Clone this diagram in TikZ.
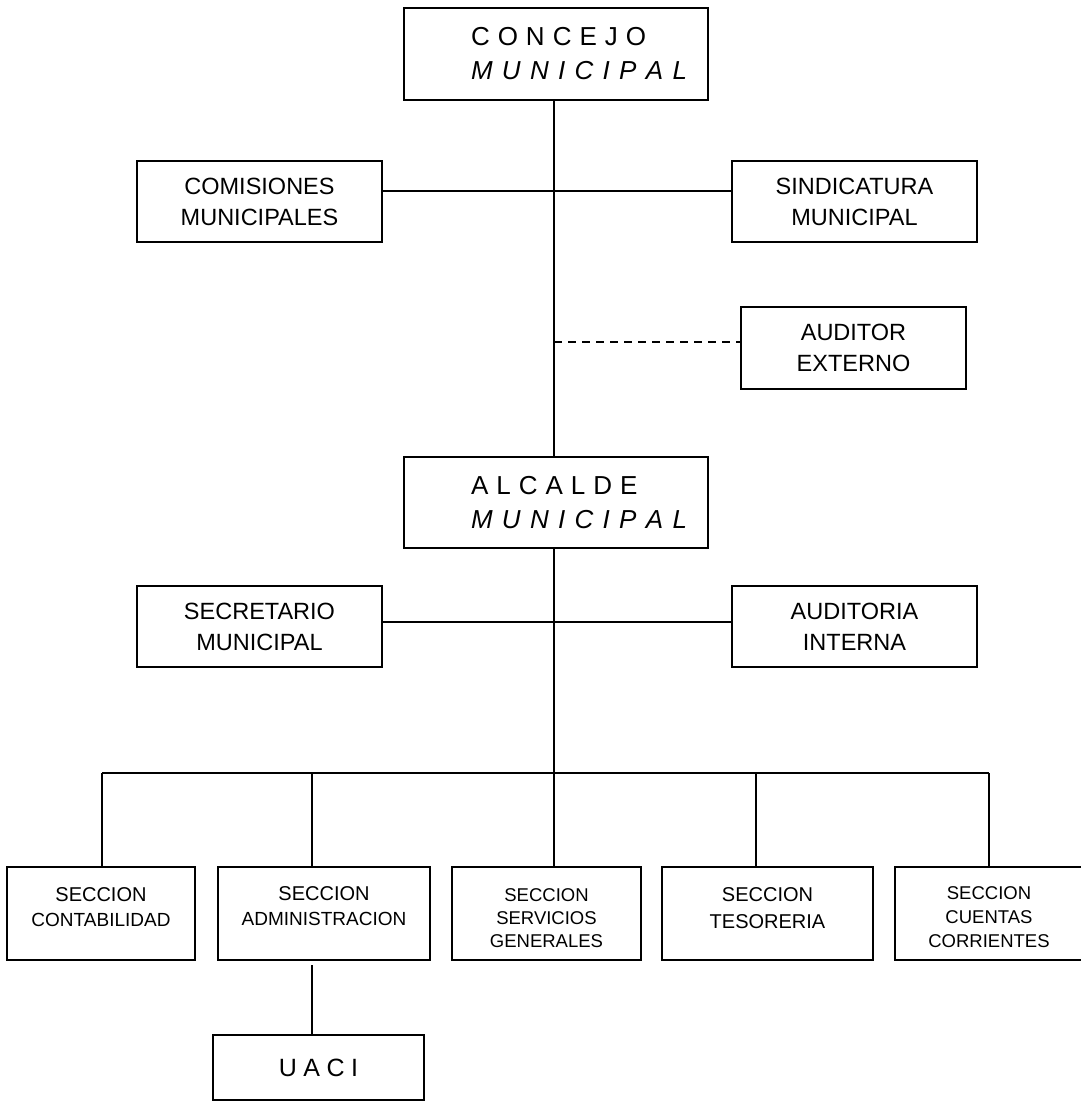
\documentclass[tikz,border=0pt]{standalone}
\usepackage{fontspec}
\setmainfont{Liberation Sans}
\begin{document}
\begin{tikzpicture}[x=1pt,y=-1pt,line width=2pt,
  box/.style={draw,rectangle,inner sep=0pt,align=center,line width=2pt},
  bigtxt/.style={font=\fontsize{23.5}{31}\selectfont},
  secttxt/.style={font=\fontsize{20}{25}\selectfont,text depth=0pt},
  titletxt/.style={font=\fontsize{26}{34}\selectfont},
  conn/.style={line width=2pt},
  dashconn/.style={line width=2pt,dash pattern=on 8pt off 6pt}]
\useasboundingbox (0,0) rectangle (1081,1104);

% top level
\node[box,titletxt,minimum width=304pt,minimum height=92pt] (concejo) at (556,54)
  {\makebox[170pt][l]{C\hspace{8pt}O\hspace{8pt}N\hspace{8pt}C\hspace{8pt}E\hspace{8pt}J\hspace{8pt}O}\\
   \makebox[170pt][l]{\itshape M\hspace{9.3pt}U\hspace{9.3pt}N\hspace{9.3pt}I\hspace{9.3pt}C\hspace{9.3pt}I\hspace{9.3pt}P\hspace{9.3pt}A\hspace{9.3pt}L}};

\node[box,bigtxt,minimum width=245pt,minimum height=81pt] (comis) at (259.5,201.5) {COMISIONES\\MUNICIPALES};
\node[box,bigtxt,minimum width=245pt,minimum height=81pt] (sind) at (854.5,201.5) {SINDICATURA\\MUNICIPAL};
\node[box,bigtxt,minimum width=225pt,minimum height=82pt] (ext) at (853.5,348) {AUDITOR\\EXTERNO};

\node[box,titletxt,minimum width=304pt,minimum height=91pt] (alcalde) at (556,502.5)
  {\makebox[170pt][l]{A\hspace{8pt}L\hspace{8pt}C\hspace{8pt}A\hspace{8pt}L\hspace{8pt}D\hspace{8pt}E}\\
   \makebox[170pt][l]{\itshape M\hspace{9.3pt}U\hspace{9.3pt}N\hspace{9.3pt}I\hspace{9.3pt}C\hspace{9.3pt}I\hspace{9.3pt}P\hspace{9.3pt}A\hspace{9.3pt}L}};

\node[box,bigtxt,minimum width=245pt,minimum height=81pt] (secre) at (259.5,626.5) {SECRETARIO\\MUNICIPAL};
\node[box,bigtxt,minimum width=245pt,minimum height=81pt] (audint) at (854.5,626.5) {AUDITORIA\\INTERNA};

% sections
\node[box,secttxt,text height=25pt,minimum width=188pt,minimum height=93pt] (cont) at (101,913.5)
  {SECCION\\{\fontsize{19}{25}\selectfont CONTABILIDAD}};
\node[box,secttxt,text height=23pt,minimum width=212pt,minimum height=93pt] (admin) at (324,913.5)
  {SECCION\\{\fontsize{19}{25}\selectfont ADMINISTRACION}};
\node[box,secttxt,font=\fontsize{18.5}{23}\selectfont,text height=67pt,minimum width=189pt,minimum height=93pt] (serv) at (546.5,913.5)
  {SECCION\\SERVICIOS\\GENERALES};
\node[box,secttxt,font=\fontsize{20}{27}\selectfont,text height=29pt,minimum width=211pt,minimum height=93pt] (teso) at (767.5,913.5)
  {SECCION\\TESORERIA};
\node[box,secttxt,font=\fontsize{18.5}{24}\selectfont,text height=67pt,minimum width=188pt,minimum height=93pt] (cuen) at (989,913.5)
  {SECCION\\CUENTAS\\CORRIENTES};

\node[box,font=\fontsize{25}{30}\selectfont,minimum width=211pt,minimum height=65pt] (uaci) at (318.5,1067.5)
  {U\hspace{6.5pt}A\hspace{6.5pt}C\hspace{6.5pt}I};

% connectors
\coordinate (trunkTop) at (554,100);
\coordinate (trunkMid) at (554,457);
\coordinate (trunkLow) at (554,548);
\coordinate (busL) at (102,773);
\coordinate (busR) at (989,773);
\coordinate (bus) at (554,773);
\coordinate (dAdm) at (312,773);
\coordinate (dTes) at (756,773);
\coordinate (comR) at ([yshift=11pt]comis.east);
\coordinate (sinL) at ([yshift=11pt]sind.west);
\coordinate (extL) at ([yshift=6pt]ext.west);
\coordinate (secR) at ([yshift=5pt]secre.east);
\coordinate (audL) at ([yshift=5pt]audint.west);
\coordinate (admB) at (312,965);

\draw[conn] (trunkTop) -- (trunkMid);
\draw[conn] (comR) -- (sinL);
\draw[dashconn] (extL -| trunkTop) -- (extL);
\draw[conn] (trunkLow) -- (bus);
\draw[conn] (secR) -- (audL);
\draw[conn] (busL) -- (busR);
\draw[conn] (busL) -- (busL |- cont.north);
\draw[conn] (dAdm) -- (dAdm |- admin.north);
\draw[conn] (bus) -- (bus |- serv.north);
\draw[conn] (dTes) -- (dTes |- teso.north);
\draw[conn] (busR) -- (busR |- cuen.north);
\draw[conn] (admB) -- (admB |- uaci.north);
\end{tikzpicture}
\end{document}
